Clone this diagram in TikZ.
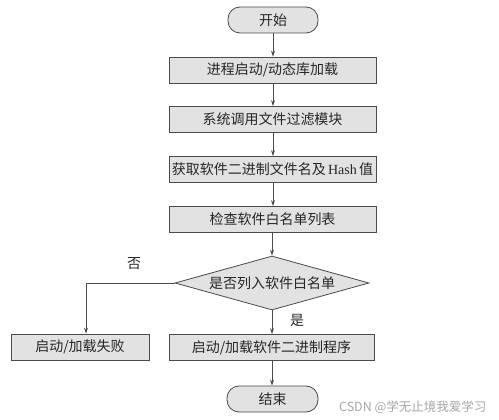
\documentclass[tikz,border=0pt]{standalone}
\usepackage{fontspec}
\setmainfont{Noto Sans CJK SC}
\newfontfamily\cjk{Noto Sans CJK SC}
\newfontfamily\latinserif{Liberation Serif}
\usetikzlibrary{shapes.geometric,arrows.meta}
\definecolor{boxfill}{HTML}{E2E2E2}
\definecolor{edge}{HTML}{4A4A4A}
\tikzset{
  procbox/.style={draw=edge, fill=boxfill, line width=0.8pt, minimum height=26pt, inner sep=0pt, font=\fontsize{14}{16}\selectfont\cjk, text=black!85},
  wide/.style={procbox, minimum width=207pt},
  termbox/.style={procbox, rounded corners=12pt, minimum width=90pt},
  decbox/.style={draw=edge, fill=boxfill, line width=0.8pt, diamond, aspect=3.6, inner sep=0pt, minimum width=194pt, minimum height=54pt, font=\fontsize{14}{16}\selectfont\cjk, text=black!85},
  flow/.style={draw=edge, line width=0.8pt, -{Stealth[length=6pt,width=4pt]}},
  lbl/.style={font=\fontsize{14}{16}\selectfont\cjk, text=black!85}
}
\begin{document}
\begin{tikzpicture}[x=1pt,y=-1pt]
\useasboundingbox (0,0) rectangle (499,420);
\node[termbox] (start) at (273,20) {开始};
\node[wide] (b1) at (272.5,70) {进程启动/动态库加载};
\node[wide] (b2) at (272.5,119.5) {系统调用文件过滤模块};
\node[wide] (b3) at (272.5,169.5) {获取软件二进制文件名及\,{\latinserif Hash}\,值};
\node[wide] (b4) at (272.5,219.5) {检查软件白名单列表};
\node[decbox] (d) at (272,283) {是否列入软件白名单};
\node[procbox, minimum width=138pt] (fail) at (80,347) {启动/加载失败};
\node[procbox, minimum width=205pt] (ok) at (271.5,347.5) {启动/加载软件二进制程序};
\node[termbox, minimum width=91pt] (end) at (272.5,399) {结束};
\node[lbl] (no) at (134,264) {否};
\node[lbl] (yes) at (297,320) {是};
\node[font=\fontsize{12.5}{14}\selectfont\cjk, text=black!35, anchor=east] (wm) at (490,407) {CSDN @学无止境我爱学习};
\draw[flow] (start.south) -- (start.south |- b1.north);
\draw[flow] (start.south |- b1.south) -- (start.south |- b2.north);
\draw[flow] (start.south |- b2.south) -- (start.south |- b3.north);
\draw[flow] (start.south |- b3.south) -- (start.south |- b4.north);
\draw[flow] (d.north |- b4.south) -- (d.north);
\draw[flow] (d.west) -| (86,0 |- fail.north);
\draw[flow] (d.south) -- (d.south |- ok.north);
\draw[flow] (d.south |- ok.south) -- (end.north -| d.south);
\end{tikzpicture}
\end{document}
